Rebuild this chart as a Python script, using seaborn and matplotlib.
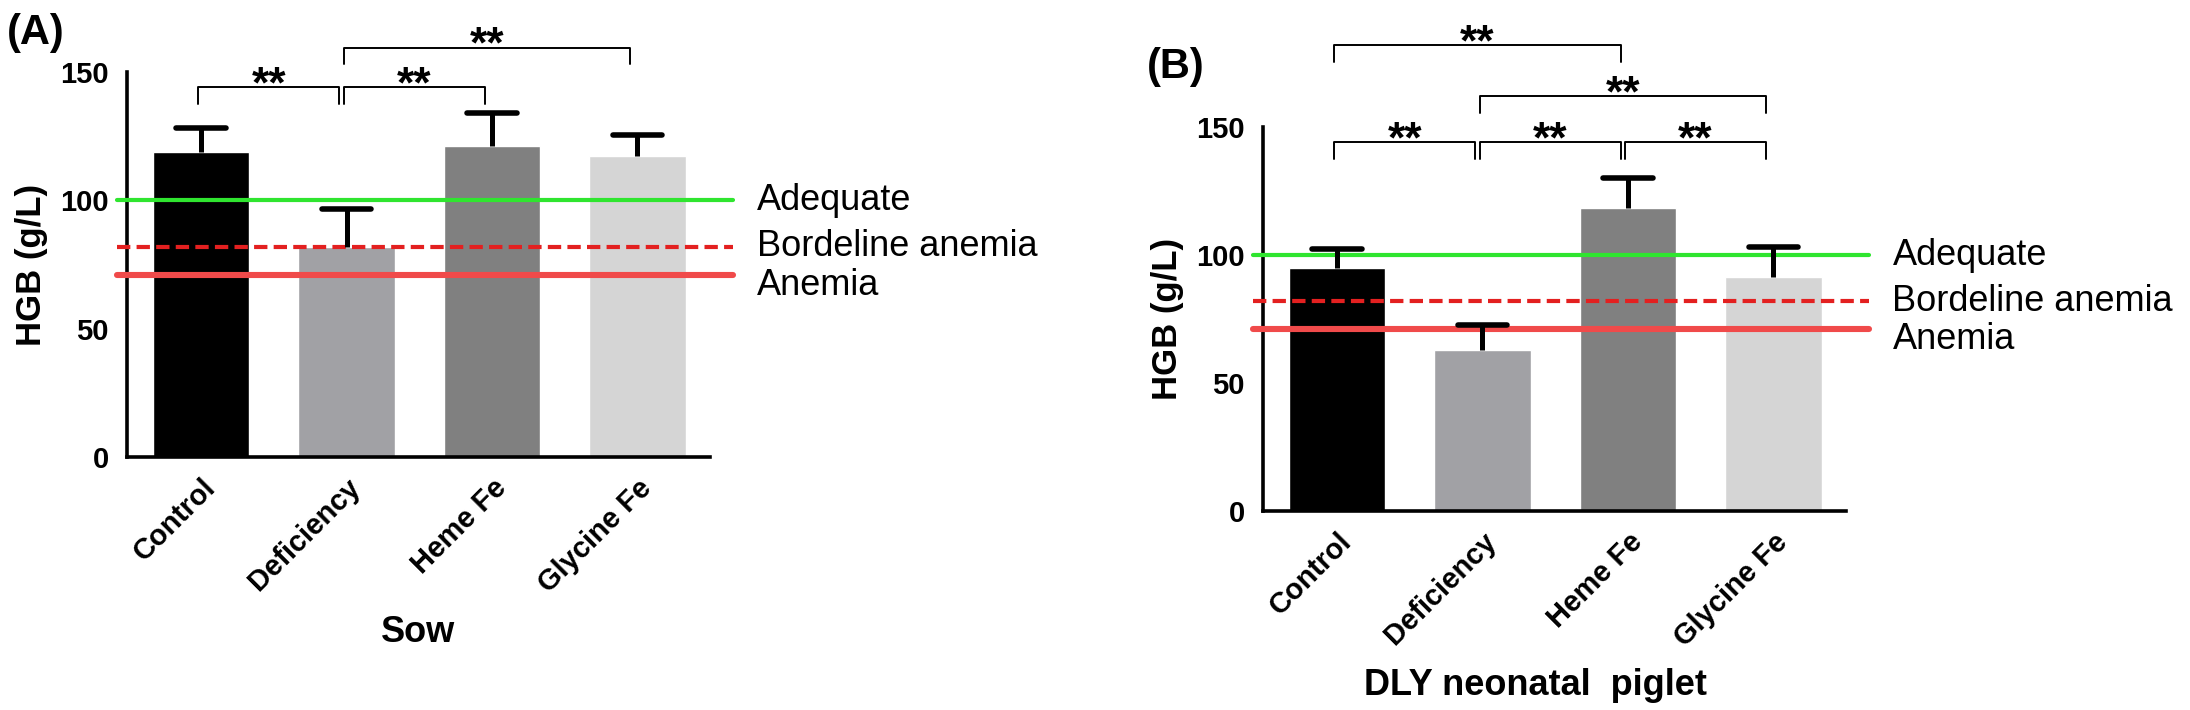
import numpy as np
import pandas as pd
import seaborn as sns
import matplotlib.pyplot as plt

# data
groups = ["Control", "Deficiency", "Heme Fe", "Glycine Fe"]
bar_colors = ["#000000", "#a1a1a5", "#808080", "#d5d5d5"]

sow_mean = [119.0, 82.0, 121.0, 117.3]
sow_sem = [9.0, 14.5, 13.0, 8.0]

piglet_mean = [95.0, 63.0, 118.5, 91.5]
piglet_sem = [7.3, 9.7, 11.7, 11.6]

adequate = 100
borderline = 82
anemia = 71
ref_labels = ["Adequate", "Bordeline anemia", "Anemia"]
ref_label_y = [100, 82, 67]

# significance brackets: (group i, group j, bracket height)
sow_brackets = [(0, 1, 144), (1, 2, 144), (1, 3, 159.5)]
piglet_brackets = [(0, 1, 144), (1, 2, 144), (2, 3, 144), (1, 3, 162), (0, 2, 182)]

sns.set_style("white")
plt.rcParams['font.family'] = ['Liberation Sans', 'DejaVu Sans']
plt.rcParams.update({'text.color': 'black', 'axes.labelcolor': 'black',
                     'xtick.color': 'black', 'ytick.color': 'black'})

fig = plt.figure(figsize=(21.9, 7.1), dpi=100)
axA = fig.add_axes([0.058, 0.3563, 0.2662, 0.5423])
axB = fig.add_axes([0.5767, 0.2803, 0.2662, 0.5408])


def draw_panel(ax, means, sems, brackets, xlabel, xlabel_x):
    df = pd.DataFrame({"group": groups, "HGB": means})
    sns.barplot(data=df, x="group", y="HGB", hue="group", palette=bar_colors,
                legend=False, width=0.664, saturation=1, errorbar=None, ax=ax, zorder=2)
    x = np.arange(len(groups))
    tops = np.array(means) + np.array(sems)
    # upper-only error bars (stem + cap)
    ax.vlines(x, means, tops, color='black', lw=3.6, zorder=6)
    ax.hlines(tops, x - 0.17, x + 0.17, color='black', lw=4, capstyle='round', zorder=6)

    # reference lines
    ax.plot([-0.58, 3.66], [adequate, adequate], color='#2fe52f', lw=3, clip_on=False, zorder=4)
    ax.plot([-0.58, 3.66], [borderline, borderline], color='#e32020', lw=3,
            dashes=(3.2, 1.5), clip_on=False, zorder=4)
    ax.plot([-0.58, 3.66], [anemia, anemia], color='#f04a4a', lw=4.4,
            solid_capstyle='round', clip_on=False, zorder=4)
    for lab, yy in zip(ref_labels, ref_label_y):
        ax.text(3.82, yy, lab, fontsize=26, ha='left', va='center', clip_on=False)

    # brackets with stars
    for i, j, h in brackets:
        x1, x2 = i - 0.02, j - 0.05
        ax.plot([x1, x1, x2, x2], [h - 6.5, h, h, h - 6.5], color='black', lw=1.4,
                clip_on=False)
        ax.text((x1 + x2) / 2, h - 4, "**", fontsize=32, fontweight='bold',
                ha='center', va='baseline', clip_on=False)

    ax.set_xlim(-0.51, 3.5)
    ax.set_ylim(0, 150)
    ax.set_yticks([0, 50, 100, 150])
    sns.despine(ax=ax)
    ax.spines['left'].set_bounds(0, 150)
    for s in ['left', 'bottom']:
        ax.spines[s].set_linewidth(2.6)
        ax.spines[s].set_color('black')
    ax.tick_params(axis='both', length=6, width=2.6, color='black', direction='out')
    ax.tick_params(axis='y', pad=7, labelsize=21)
    ax.tick_params(axis='x', pad=6, labelsize=21)
    for t in ax.get_yticklabels():
        t.set_fontweight('bold')
    ax.set_xticks(x)
    ax.set_xticklabels(groups, rotation=45, ha='right', rotation_mode='anchor',
                       fontweight='bold')
    ax.set_ylabel("HGB (g/L)", fontsize=25, fontweight='bold', va='center')
    ax.yaxis.set_label_coords(-0.163, 0.5)
    ax.set_xlabel(xlabel, fontsize=26, fontweight='bold')
    ax.xaxis.set_label_coords(xlabel_x, -0.455)
    ax.xaxis.label.set_va('center')


draw_panel(axA, sow_mean, sow_sem, sow_brackets, "Sow", 0.5)
draw_panel(axB, piglet_mean, piglet_sem, piglet_brackets, "DLY neonatal  piglet", 0.467)

fig.text(7 / 2190, 1 - 33 / 710, "(A)", fontsize=30, fontweight='bold', ha='left', va='center')
fig.text(1147 / 2190, 1 - 67 / 710, "(B)", fontsize=30, fontweight='bold', ha='left', va='center')

fig.savefig("out.png", dpi=100)
